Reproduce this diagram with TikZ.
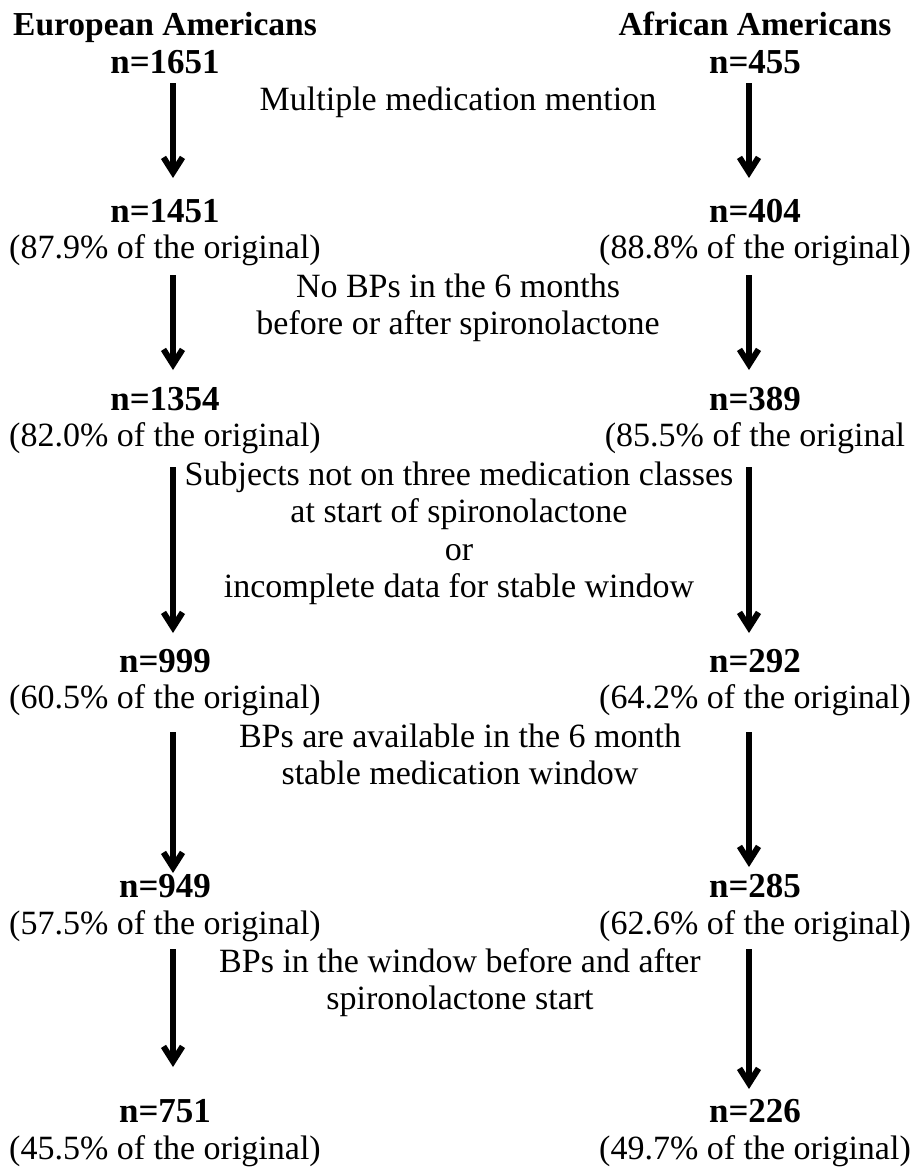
\documentclass[tikz,border=0pt]{standalone}
\usepackage{fontspec}
\setmainfont{Liberation Serif}
\usetikzlibrary{arrows.meta}
\begin{document}
\begin{tikzpicture}[x=1pt,y=-1pt,
  headtxt/.style={font=\fontsize{33.5}{38}\selectfont\bfseries, anchor=base, inner sep=0pt},
  cnttxt/.style={font=\fontsize{35}{40}\selectfont\bfseries, anchor=base, inner sep=0pt},
  pcttxt/.style={font=\fontsize{34}{38}\selectfont, anchor=base, inner sep=0pt},
  lbltxt/.style={font=\fontsize{34}{38}\selectfont, anchor=base, inner sep=0pt},
  flow/.style={line width=6pt, -{Straight Barb[length=15pt,width=19pt]}}]
\useasboundingbox (0,0) rectangle (913,1167);

% headings and counts
\node[headtxt] (hE) at (165,35) {European Americans};
\node[headtxt] (hA) at (755,35) {African Americans};
\node[cnttxt] (e0) at (165,73) {n=1651};
\node[cnttxt] (a0) at (755,73) {n=455};

\node[lbltxt] (c1) at (458,110) {Multiple medication mention};

\node[cnttxt] (e1) at (165,222) {n=1451};
\node[cnttxt] (a1) at (755,222) {n=404};
\node[pcttxt] (pe1) at (165,258) {(87.9\% of the original)};
\node[pcttxt] (pa1) at (755,258) {(88.8\% of the original)};

\node[lbltxt] (c2a) at (458,297) {No BPs in the 6 months};
\node[lbltxt] (c2b) at (458,334) {before or after spironolactone};

\node[cnttxt] (e2) at (165,410) {n=1354};
\node[cnttxt] (a2) at (755,410) {n=389};
\node[pcttxt] (pe2) at (165,446) {(82.0\% of the original)};
\node[pcttxt] (pa2) at (755,446) {(85.5\% of the original};

\node[lbltxt] (c3a) at (459,485) {Subjects not on three medication classes};
\node[lbltxt] (c3b) at (459,522.5) {at start of spironolactone};
\node[lbltxt] (c3c) at (459,560) {or};
\node[lbltxt] (c3d) at (459,597.5) {incomplete data for stable window};

\node[cnttxt] (e3) at (165,672) {n=999};
\node[cnttxt] (a3) at (755,672) {n=292};
\node[pcttxt] (pe3) at (165,708.5) {(60.5\% of the original)};
\node[pcttxt] (pa3) at (755,708.5) {(64.2\% of the original)};

\node[lbltxt] (c4a) at (460,747) {BPs are available in the 6 month};
\node[lbltxt] (c4b) at (460,784.5) {stable medication window};

\node[cnttxt] (e4) at (165,897) {n=949};
\node[cnttxt] (a4) at (755,897) {n=285};
\node[pcttxt] (pe4) at (165,934) {(57.5\% of the original)};
\node[pcttxt] (pa4) at (755,934) {(62.6\% of the original)};

\node[lbltxt] (c5a) at (460,972) {BPs in the window before and after};
\node[lbltxt] (c5b) at (460,1009) {spironolactone start};

\node[cnttxt] (e5) at (165,1122) {n=751};
\node[cnttxt] (a5) at (755,1122) {n=226};
\node[pcttxt] (pe5) at (165,1159) {(45.5\% of the original)};
\node[pcttxt] (pa5) at (755,1159) {(49.7\% of the original)};

% arrow end points
\coordinate (L1s) at (173,83);  \coordinate (L1e) at (173,178);
\coordinate (R1s) at (749,83);  \coordinate (R1e) at (749,178);
\coordinate (L2s) at (173,275); \coordinate (L2e) at (173,370);
\coordinate (R2s) at (749,275); \coordinate (R2e) at (749,370);
\coordinate (L3s) at (173,467); \coordinate (L3e) at (173,633);
\coordinate (R3s) at (749,467); \coordinate (R3e) at (749,633);
\coordinate (L4s) at (173,732); \coordinate (L4e) at (173,873);
\coordinate (R4s) at (749,732); \coordinate (R4e) at (749,867);
\coordinate (L5s) at (173,949); \coordinate (L5e) at (173,1067);
\coordinate (R5s) at (749,949); \coordinate (R5e) at (749,1089);

\foreach \a in {L1,R1,L2,R2,L3,R3,L4,R4,L5,R5}
  \draw[flow] (\a s) -- (\a e);
\end{tikzpicture}
\end{document}
